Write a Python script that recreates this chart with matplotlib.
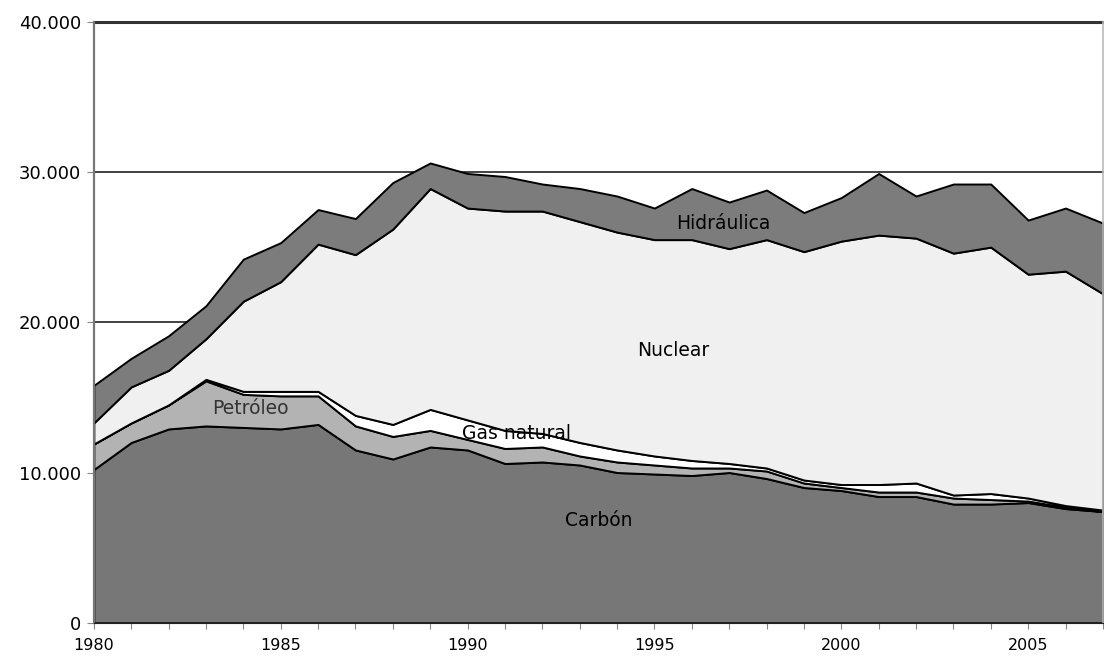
import numpy as np
import matplotlib
matplotlib.use("Agg")
import matplotlib.pyplot as plt

plt.rcParams['font.family'] = ['DejaVu Sans']

years = list(range(1980, 2008))
carbon = [10200, 12000, 12900, 13100, 13000, 12900, 13200, 11500, 10900, 11700,
          11500, 10600, 10700, 10500, 10000, 9900, 9800, 10000, 9600, 9000,
          8800, 8400, 8400, 7900, 7900, 8000, 7600, 7400]
petroleo = [1700, 1300, 1600, 3000, 2200, 2200, 1900, 1600, 1500, 1100,
            700, 1000, 1000, 600, 700, 600, 500, 300, 500, 300,
            200, 300, 300, 400, 300, 100, 100, 0]
gas_natural = [0, 0, 0, 100, 200, 300, 300, 700, 800, 1400,
               1300, 1200, 900, 900, 800, 600, 500, 300, 200, 200,
               200, 500, 600, 200, 400, 200, 100, 100]
nuclear = [1400, 2400, 2300, 2700, 6000, 7300, 9800, 10700, 13000, 14700,
           14100, 14600, 14800, 14700, 14500, 14400, 14700, 14300, 15200, 15200,
           16200, 16600, 16300, 16100, 16400, 14900, 15600, 14400]
hidraulica = [2500, 1900, 2300, 2200, 2800, 2600, 2300, 2400, 3100, 1700,
              2300, 2300, 1800, 2200, 2400, 2100, 3400, 3100, 3300, 2600,
              2900, 4100, 2800, 4600, 4200, 3600, 4200, 4700]

series_colors = ['#777777', '#b3b3b3', '#ffffff', '#f0f0f0', '#7c7c7c']
y_ticks = [0, 10000, 20000, 30000, 40000]

fig = plt.figure(figsize=(11.04, 6.59), dpi=100)
ax = fig.add_axes([0.085, 0.055, 0.914, 0.912])

ax.stackplot(years, carbon, petroleo, gas_natural, nuclear, hidraulica,
             colors=series_colors, edgecolor='black', linewidth=1.4, zorder=2)

# horizontal grid behind the areas
for yv in y_ticks[1:]:
    ax.axhline(yv, color='#333333', linewidth=1.3 if yv < 40000 else 2.2,
               zorder=1, clip_on=False)

ax.set_xlim(years[0], years[-1])
ax.set_ylim(0, 40000)
ax.set_yticks(y_ticks)
ax.set_yticklabels([f"{v:,}".replace(',', '.') for v in y_ticks], fontsize=13)
ax.set_xticks(years)
ax.set_xticklabels([str(y) if y % 5 == 0 else '' for y in years], fontsize=11.5)
ax.tick_params(axis='x', length=4, color='#888888', pad=7)
ax.tick_params(axis='y', length=5, color='#888888', pad=4)

ax.spines['top'].set_visible(False)
ax.spines['right'].set_color('#bbbbbb')
ax.spines['right'].set_linewidth(1.2)
ax.spines['left'].set_color('#777777')
ax.spines['left'].set_linewidth(1.6)
ax.spines['bottom'].set_color('#222222')
ax.spines['bottom'].set_zorder(3)

# series labels inside the areas
ax.text(1993.5, 6800, 'Carbón', fontsize=13.5, ha='center', va='center', zorder=4)
ax.text(1984.2, 14250, 'Petróleo', fontsize=13.5, ha='center', va='center', color='#333333', zorder=4)
ax.text(1991.3, 12600, 'Gas natural', fontsize=13.5, ha='center', va='center', zorder=4)
ax.text(1995.5, 18100, 'Nuclear', fontsize=13.5, ha='center', va='center', zorder=4)
ax.text(1996.85, 26600, 'Hidráulica', fontsize=13.5, ha='center', va='center', zorder=4)

fig.savefig('out.png', dpi=100)
